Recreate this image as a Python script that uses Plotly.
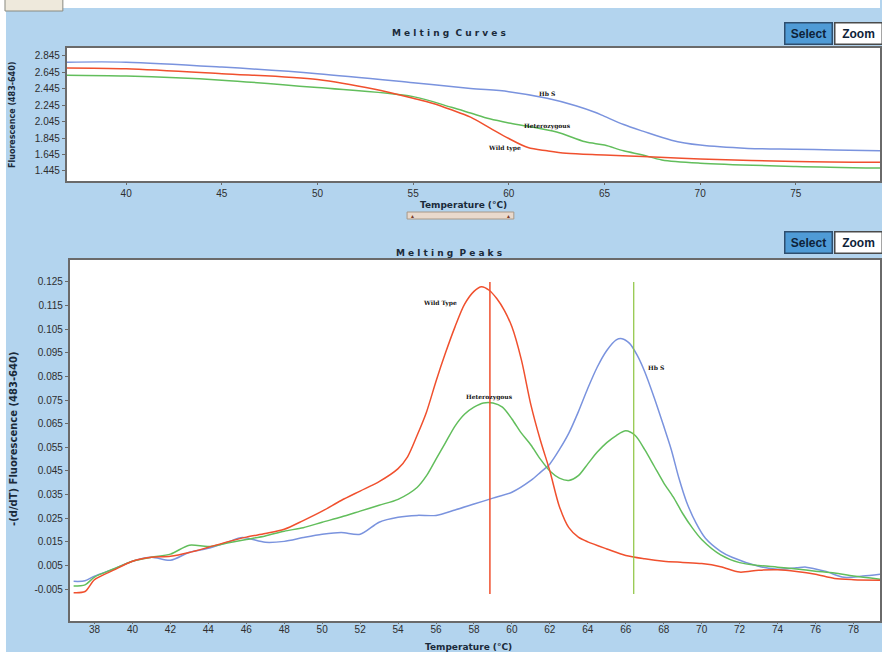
import plotly.graph_objects as go

W, H = 882, 652

# ---------------- Data: Melting Curves (top) ----------------
curve_hbs_t = [36.9, 40, 45, 50, 55, 58, 60, 62, 63.5, 64.5, 65, 66, 67, 68.5, 70, 72.5, 75, 77, 79.4]
curve_hbs_v = [2.77, 2.77, 2.71, 2.63, 2.52, 2.45, 2.41, 2.33, 2.24, 2.16, 2.11, 2.01, 1.93, 1.82, 1.76, 1.72, 1.71, 1.70, 1.69]

curve_wt_t = [36.9, 40, 45, 50, 53, 55, 56, 57, 58, 59, 60, 61, 62, 63, 65, 67, 70, 75, 79.4]
curve_wt_v = [2.70, 2.69, 2.63, 2.56, 2.44, 2.33, 2.27, 2.19, 2.10, 1.97, 1.84, 1.73, 1.69, 1.66, 1.64, 1.62, 1.59, 1.56, 1.55]

curve_het_t = [36.9, 40, 45, 50, 55, 57, 58, 59, 60, 61, 62.5, 64, 65, 66, 67, 68, 70, 75, 79.4]
curve_het_v = [2.61, 2.60, 2.55, 2.46, 2.35, 2.22, 2.15, 2.08, 2.03, 1.99, 1.92, 1.80, 1.76, 1.69, 1.64, 1.58, 1.54, 1.50, 1.48]

# ---------------- Data: Melting Peaks (bottom) ----------------
peak_wt_t = [36.9, 37.5, 38, 39, 40, 41, 42, 43, 44, 45, 46, 47, 48, 49, 50, 51, 52, 53, 54, 54.5, 55, 55.5,
             56, 56.5, 57, 57.5, 58, 58.4, 58.8, 59.2, 59.6, 60, 60.5, 61, 61.5, 62, 62.5, 63, 63.5, 64, 65,
             66, 67, 68, 69, 70, 71, 72, 73, 74, 75, 76, 77, 78, 79.4]
peak_wt_v = [-0.0065, -0.0060, -0.0010, 0.0030, 0.0068, 0.0085, 0.0089, 0.0105, 0.0127, 0.0150, 0.0170, 0.0185,
             0.0203, 0.0240, 0.0280, 0.0325, 0.0365, 0.0405, 0.0460, 0.0510, 0.0600, 0.0700, 0.0830, 0.0950,
             0.1060, 0.1155, 0.1210, 0.1230, 0.1215, 0.1180, 0.1130, 0.1060, 0.0920, 0.0730, 0.0580, 0.0450,
             0.0300, 0.0210, 0.0170, 0.0150, 0.0120, 0.0092, 0.0078, 0.0068, 0.0063, 0.0058, 0.0045, 0.0022,
             0.0030, 0.0032, 0.0025, 0.0013, -0.0005, -0.0010, -0.0012]

peak_het_t = [36.9, 37.5, 38, 39, 40, 41, 42, 43, 44, 45, 46, 47, 48, 49, 50, 51, 52, 53, 54, 55, 55.5, 56,
              56.5, 57, 57.5, 58, 58.5, 59, 59.5, 60, 60.5, 61, 61.5, 62, 62.5, 63, 63.5, 64, 64.5, 65, 65.5,
              66, 66.5, 67, 67.5, 68, 68.5, 69, 69.5, 70, 71, 72, 73, 74, 75, 76, 77, 78, 79.4]
peak_het_v = [-0.0037, -0.0032, 0.0001, 0.0035, 0.0068, 0.0085, 0.0098, 0.0136, 0.0130, 0.0145, 0.0160, 0.0175,
              0.0195, 0.0210, 0.0233, 0.0255, 0.0280, 0.0305, 0.0330, 0.0380, 0.0430, 0.0500, 0.0570, 0.0640,
              0.0690, 0.0720, 0.0738, 0.0738, 0.0720, 0.0670, 0.0610, 0.0560, 0.0500, 0.0450, 0.0420, 0.0410,
              0.0430, 0.0480, 0.0530, 0.0570, 0.0600, 0.0620, 0.0600, 0.0540, 0.0470, 0.0400, 0.0340, 0.0270,
              0.0210, 0.0160, 0.0095, 0.0062, 0.0050, 0.0043, 0.0035, 0.0026, 0.0018, 0.0005, -0.0008]

peak_hbs_t = [36.9, 37.5, 38, 39, 40, 41, 42, 43, 44, 45, 45.8, 47, 48, 49, 50, 51, 52, 53, 54, 55, 56, 57, 58,
              59, 60, 61, 61.5, 62, 62.5, 63, 63.5, 64, 64.5, 65, 65.5, 65.8, 66.2, 66.6, 67, 67.5, 68, 68.4,
              68.8, 69.2, 69.7, 70.2, 71, 71.6, 73, 74, 75, 75.5, 76.5, 77.5, 78.5, 79.4]
peak_hbs_v = [-0.0017, -0.0015, 0.0005, 0.0034, 0.0068, 0.0085, 0.0072, 0.0106, 0.0123, 0.0148, 0.0168, 0.0148,
              0.0152, 0.0168, 0.0182, 0.0190, 0.0182, 0.0233, 0.0254, 0.0262, 0.0262, 0.0285, 0.0310, 0.0335,
              0.0360, 0.0410, 0.0444, 0.0480, 0.0540, 0.0610, 0.0700, 0.0800, 0.0890, 0.0960, 0.1005, 0.1010,
              0.0990, 0.0940, 0.0870, 0.0760, 0.0640, 0.0540, 0.0420, 0.0320, 0.0230, 0.0165, 0.0110, 0.0085,
              0.0047, 0.0034, 0.0040, 0.0043, 0.0026, 0.0000, 0.0005, 0.0013]

tm_wt = 58.84
tm_hbs = 66.42
tm_line_span = [-0.0071, 0.125]

top_xticks = [40, 45, 50, 55, 60, 65, 70, 75]
top_yticks = [1.445, 1.645, 1.845, 2.045, 2.245, 2.445, 2.645, 2.845]
bot_xticks = list(range(38, 80, 2))
bot_yticks = [-0.005, 0.005, 0.015, 0.025, 0.035, 0.045, 0.055, 0.065, 0.075, 0.085, 0.095, 0.105, 0.115, 0.125]

RED = "#F0502E"
GREEN = "#62BE5C"
BLUE = "#7A93DE"
GREEN_TM = "#8DC43E"
BG = "#B3D4EE"


def px(x):
    return x / W


def py(y):
    return 1 - y / H


fig = go.Figure()

line_kw = dict(mode="lines", line_shape="spline", hoverinfo="skip", showlegend=False)

fig.add_trace(go.Scatter(x=curve_hbs_t, y=curve_hbs_v, line=dict(color=BLUE, width=1.5, smoothing=0.9), xaxis="x", yaxis="y", **line_kw))
fig.add_trace(go.Scatter(x=curve_het_t, y=curve_het_v, line=dict(color=GREEN, width=1.5, smoothing=0.9), xaxis="x", yaxis="y", **line_kw))
fig.add_trace(go.Scatter(x=curve_wt_t, y=curve_wt_v, line=dict(color=RED, width=1.5, smoothing=0.9), xaxis="x", yaxis="y", **line_kw))

fig.add_trace(go.Scatter(x=peak_hbs_t, y=peak_hbs_v, line=dict(color=BLUE, width=1.5, smoothing=0.8), xaxis="x2", yaxis="y2", **line_kw))
fig.add_trace(go.Scatter(x=peak_het_t, y=peak_het_v, line=dict(color=GREEN, width=1.5, smoothing=0.8), xaxis="x2", yaxis="y2", **line_kw))
fig.add_trace(go.Scatter(x=peak_wt_t, y=peak_wt_v, line=dict(color=RED, width=1.5, smoothing=0.8), xaxis="x2", yaxis="y2", **line_kw))

# Tm lines
fig.add_trace(go.Scatter(x=[tm_wt, tm_wt], y=tm_line_span, mode="lines", line=dict(color=RED, width=1.5),
                         xaxis="x2", yaxis="y2", hoverinfo="skip", showlegend=False))
fig.add_trace(go.Scatter(x=[tm_hbs, tm_hbs], y=tm_line_span, mode="lines", line=dict(color=GREEN_TM, width=1.2),
                         xaxis="x2", yaxis="y2", hoverinfo="skip", showlegend=False))

tick_font = dict(family="Liberation Sans Narrow, Liberation Sans, Arial", size=10, color="#2E2E2E")
axis_common = dict(showgrid=False, zeroline=False, showline=True, linecolor="#6A6A6A", linewidth=2,
                   mirror=True, tickcolor="#6A6A6A", tickfont=tick_font)

fig.update_layout(
    width=W, height=H,
    margin=dict(l=0, r=0, t=0, b=0),
    paper_bgcolor=BG,
    plot_bgcolor="white",
    xaxis=dict(domain=[px(67), 1], range=[36.9, 79.4], tickvals=top_xticks, anchor="y",
               ticks="outside", ticklen=2, **axis_common),
    yaxis=dict(domain=[py(181), py(48)], range=[1.323, 2.942], tickvals=top_yticks,
               ticktext=["%.3f" % v for v in top_yticks], anchor="x", ticks="outside", ticklen=3, **axis_common),
    xaxis2=dict(domain=[px(70), 1], range=[36.7, 79.4], tickvals=bot_xticks, anchor="y2",
                ticks="outside", ticklen=1, ticklabelstandoff=-3, **axis_common),
    yaxis2=dict(domain=[py(621), py(260)], range=[-0.0185, 0.1343], tickvals=bot_yticks,
                ticktext=["%.3f" % v for v in bot_yticks], anchor="x2", ticks="outside", ticklen=3, **axis_common),
)

shapes = [
    # white strips at top and left edges
    dict(type="rect", xref="paper", yref="paper", x0=0, x1=px(6), y0=0, y1=1,
         fillcolor="white", line=dict(width=0)),
    dict(type="rect", xref="paper", yref="paper", x0=0, x1=1, y0=py(8), y1=1,
         fillcolor="white", line=dict(width=0)),
    # partial button at top-left
    dict(type="rect", xref="paper", yref="paper", x0=px(5), x1=px(63), y0=py(11), y1=py(-4),
         fillcolor="#EEE9DC", line=dict(color="#8A8A80", width=1)),
    # divider slider
    dict(type="rect", xref="paper", yref="paper", x0=px(408), x1=px(515), y0=py(219), y1=py(212),
         fillcolor="#E9D9CC", line=dict(color="#A89888", width=1)),
]
fig.update_layout(shapes=shapes)

ann = []
C = dict(xanchor="center", yanchor="middle", showarrow=False)


def pa(text, x, y, font, **kw):
    d = dict(text=text, x=px(x), y=py(y), xref="paper", yref="paper", font=font, **C)
    d.update(kw)
    return d


title_font = dict(family="DejaVu Sans, Verdana", size=9, color="#1A2A3A")
ann.append(pa("<b>M e l t i n g  C u r v e s</b>", 450, 33, title_font))
ann.append(pa("<b>M e l t i n g  P e a k s</b>", 450, 253, title_font))

axis_title_font = dict(family="DejaVu Sans, Verdana", size=9, color="#1A2A3A")
ann.append(pa("<b>Temperature (°C)</b>", 465, 205, axis_title_font))
ann.append(pa("<b>Temperature (°C)</b>", 470, 646.5, axis_title_font))
ann.append(pa("<b>Fluorescence (483-640)</b>", 13, 115,
              dict(family="DejaVu Sans, Verdana", size=8, color="#1A2A3A"), textangle=-90))
ann.append(pa("<b>-(d/dT) Fluorescence (483-640)</b>", 13, 438,
              dict(family="DejaVu Sans, Verdana", size=10, color="#1A2A3A"), textangle=-90))

# divider arrows
ann.append(pa("▲", 413, 216, dict(size=5, color="#7A3A2A")))
ann.append(pa("▲", 510, 216, dict(size=5, color="#7A3A2A")))

# buttons
btn_font = dict(family="Liberation Sans Narrow, Liberation Sans, Arial", size=12, color="#0E2238")
for yb in (33, 243):
    ann.append(pa("<b>Select</b>", 810, yb, btn_font, bgcolor="#4F9BD6", bordercolor="#2E4E6E",
                  borderwidth=1.5, borderpad=3, width=40))
    ann.append(pa("<b>Zoom</b>", 860, yb, btn_font, bgcolor="white", bordercolor="#4A4A4A",
                  borderwidth=1.5, borderpad=3, width=40))

# curve labels
lab_font = dict(family="DejaVu Serif, Liberation Serif", size=6, color="#111111")


def da(text, x, y, xr, yr):
    return dict(text="<b>%s</b>" % text, x=x, y=y, xref=xr, yref=yr, font=lab_font, **C)


ann.append(da("Hb S", 62.0, 2.39, "x", "y"))
ann.append(da("Heterozygous", 62.0, 1.99, "x", "y"))
ann.append(da("Wild type", 59.8, 1.73, "x", "y"))
ann.append(da("Wild Type", 56.2, 0.116, "x2", "y2"))
ann.append(da("Heterozygous", 58.8, 0.0765, "x2", "y2"))
ann.append(da("Hb S", 67.6, 0.0887, "x2", "y2"))

fig.update_layout(annotations=ann)

fig.write_html("out.html")
